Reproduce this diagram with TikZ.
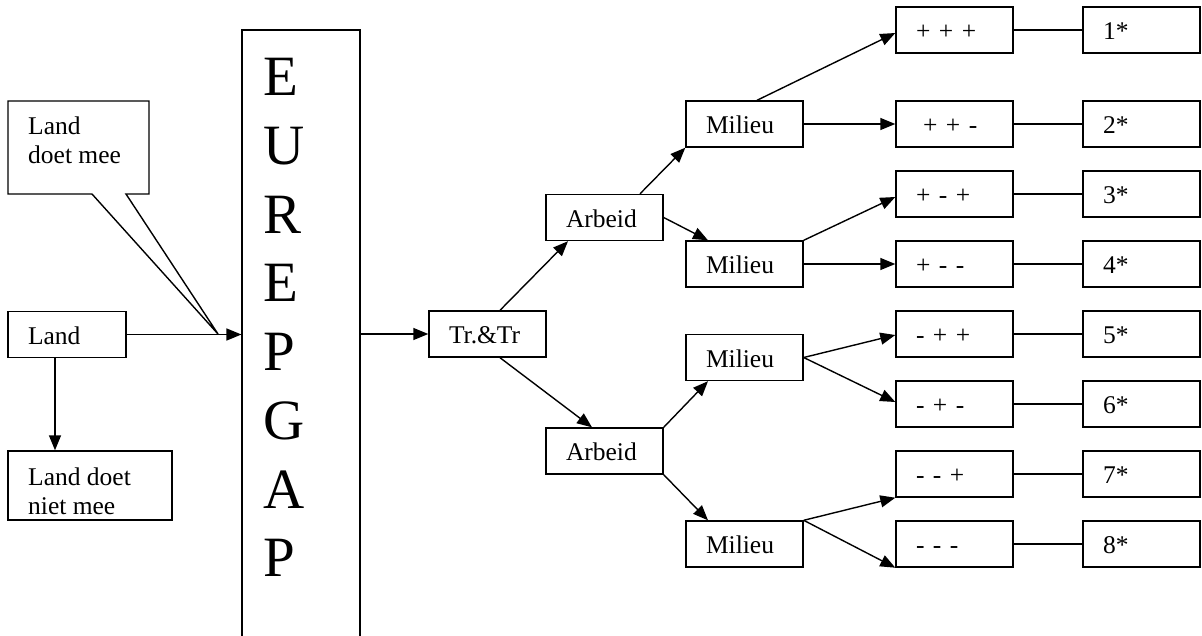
\documentclass[tikz,border=0pt]{standalone}
\usepackage{fontspec}
\setmainfont{Liberation Serif}
\usetikzlibrary{arrows.meta,calc}
\begin{document}
\begin{tikzpicture}[x=1pt,y=-1pt,
  every node/.style={font=\fontsize{25.5}{29}\selectfont},
  box/.style={draw, line width=1.4pt, minimum width=117pt, minimum height=46pt,
    inner xsep=20pt, inner ysep=0pt, text width=77pt, align=left,
    text height=19pt, text depth=0pt},
  plainbox/.style={draw, line width=1.4pt, inner sep=0pt},
  txt/.style={inner sep=0pt, align=left},
  arr/.style={-{Triangle[length=15pt,width=12pt]}, line width=1.4pt},
  ln/.style={line width=1.4pt}
]
\useasboundingbox (0,0) rectangle (1202,635);
\clip (0,0) rectangle (1202,635);

% left part
\coordinate (mNW) at (8,101);
\coordinate (mSE) at (149,194);
\coordinate (tip) at (218,334);
\draw[ln, line join=miter] (mNW) -- (mNW -| mSE) -- (mSE) -- (126,194) -- (tip) -- (92,194) -- (mNW |- mSE) -- cycle;
\node[txt, anchor=north west] (meetxt) at (28,116.7) {Land\\doet mee};

\node[box, minimum width=118pt, text width=78pt] (land) at (67,334.5) {Land};
\node[plainbox, minimum width=164pt, minimum height=69pt] (niet) at (90,485.5) {};
\node[txt, anchor=north west] (niettxt) at (28,467.7) {Land doet\\niet mee};

% EUREPGAP column
\node[draw, line width=1.1pt, minimum width=118pt, minimum height=620pt, inner sep=0pt] (eur) at (301,340) {};
\node[txt, anchor=north west, font=\fontsize{57}{68.7}\selectfont] (eurtxt) at (263,58.3) {E\\U\\R\\E\\P\\G\\A\\P};

% tree
\node[box] (tr) at (487.5,334) {Tr.\&Tr};
\node[box] (arb1) at (604.5,217.5) {Arbeid};
\node[box] (arb2) at (604.5,451) {Arbeid};
\node[box] (mil1) at (744.5,124) {Milieu};
\node[box] (mil2) at (744.5,264) {Milieu};
\node[box] (mil3) at (744.5,357.5) {Milieu};
\node[box] (mil4) at (744.5,544) {Milieu};

\node[box] (r1) at (954.5,30) {+ + +};
\node[box] (r2) at (954.5,124) {\hspace{7pt}+ + -};
\node[box] (r3) at (954.5,194) {+ - +};
\node[box] (r4) at (954.5,264) {+ - -};
\node[box] (r5) at (954.5,334) {- + +};
\node[box] (r6) at (954.5,404) {- + -};
\node[box] (r7) at (954.5,474) {- - +};
\node[box] (r8) at (954.5,544) {- - -};

\node[box] (s1) at (1141.5,30) {1*};
\node[box] (s2) at (1141.5,124) {2*};
\node[box] (s3) at (1141.5,194) {3*};
\node[box] (s4) at (1141.5,264) {4*};
\node[box] (s5) at (1141.5,334) {5*};
\node[box] (s6) at (1141.5,404) {6*};
\node[box] (s7) at (1141.5,474) {7*};
\node[box] (s8) at (1141.5,544) {8*};

% connectors
\coordinate (ls) at ($(land.south)+(-12,0)$);
\draw[arr] (land.east) -- (land.east -| eur.west);
\draw[arr] (ls) -- (ls |- niet.north);
\draw[arr] (eur.east |- tr.west) -- (tr.west);
\draw[arr] ($(tr.north)+(12.5,0)$) -- ($(arb1.south)+(-36.5,0)$);
\draw[arr] ($(tr.south)+(12.5,0)$) -- ($(arb2.north)+(-12.5,0)$);
\draw[arr] ($(arb1.north)+(35.5,0)$) -- (mil1.south west);
\draw[arr] (arb1.east) -- ($(mil2.north)+(-36.5,0)$);
\draw[arr] (arb2.north east) -- ($(mil3.south)+(-36.5,0)$);
\draw[arr] (arb2.south east) -- ($(mil4.north)+(-36.5,0)$);

\draw[arr] ($(mil1.north)+(12.5,0)$) -- ($(r1.west)+(0,3)$);
\draw[arr] (mil1.east) -- (r2.west);
\draw[arr] (mil2.north east) -- ($(r3.west)+(0,3)$);
\draw[arr] (mil2.east) -- (r4.west);
\draw[arr] (mil3.east) -- ($(r5.west)+(0,1)$);
\draw[arr] (mil3.east) -- ($(r6.west)+(0,-2)$);
\draw[arr] (mil4.north east) -- (r7.south west);
\draw[arr] (mil4.north east) -- (r8.south west);

\foreach \i in {1,...,8} \draw[ln] (r\i.east) -- (s\i.west);
\end{tikzpicture}
\end{document}
